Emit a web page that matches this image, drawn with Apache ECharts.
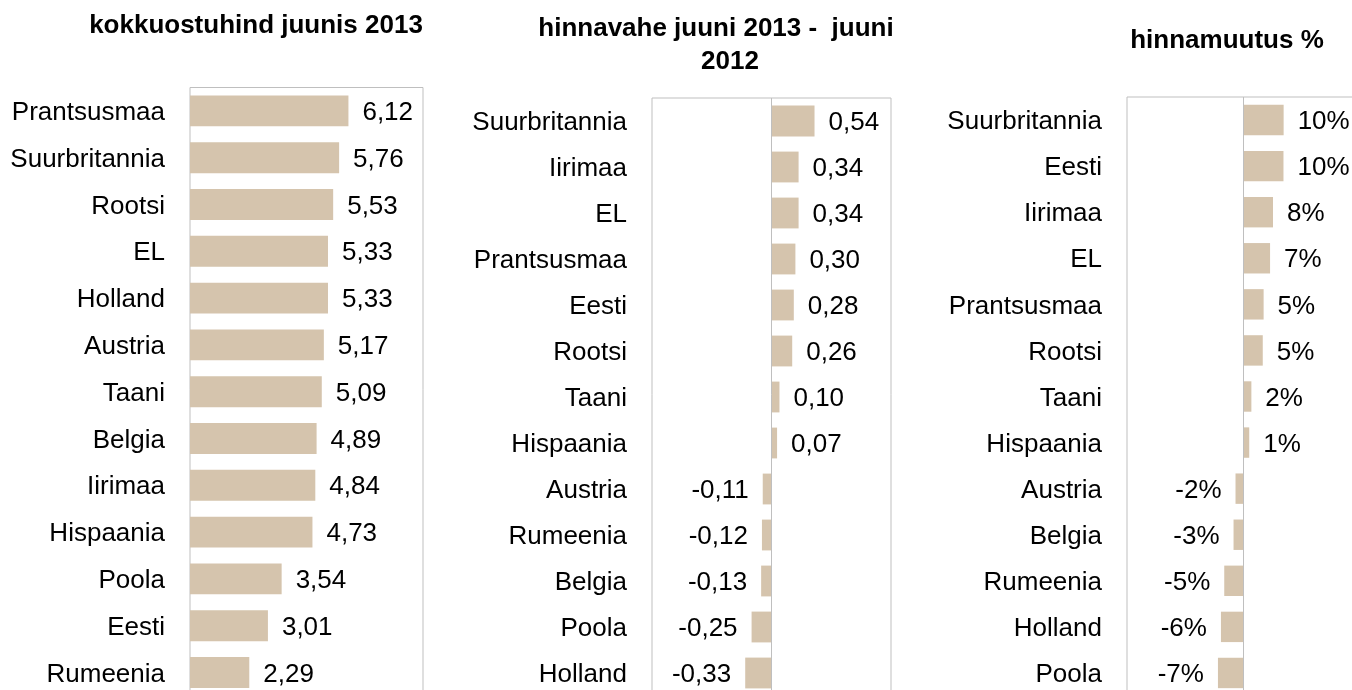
<!DOCTYPE html>
<html>
<head>
<meta charset="utf-8">
<script src="https://cdn.jsdelivr.net/npm/echarts@6/dist/echarts.min.js"></script>
<style>
  html, body { margin: 0; padding: 0; background: #fff; }
  #chart { width: 1352px; height: 690px; }
</style>
</head>
<body>
<div id="chart"></div>
<script>
// Panel 1: total purchase price, June 2013
const priceCountries = ['Prantsusmaa', 'Suurbritannia', 'Rootsi', 'EL', 'Holland', 'Austria', 'Taani',
  'Belgia', 'Iirimaa', 'Hispaania', 'Poola', 'Eesti', 'Rumeenia'];
const priceValues = [6.12, 5.76, 5.53, 5.33, 5.33, 5.17, 5.09, 4.89, 4.84, 4.73, 3.54, 3.01, 2.29];

// Panel 2: price difference June 2013 vs June 2012
const diffCountries = ['Suurbritannia', 'Iirimaa', 'EL', 'Prantsusmaa', 'Eesti', 'Rootsi', 'Taani',
  'Hispaania', 'Austria', 'Rumeenia', 'Belgia', 'Poola', 'Holland'];
const diffValues = [0.54, 0.34, 0.34, 0.30, 0.28, 0.26, 0.10, 0.07, -0.11, -0.12, -0.13, -0.25, -0.33];

// Panel 3: price change, %
const changeCountries = ['Suurbritannia', 'Eesti', 'Iirimaa', 'EL', 'Prantsusmaa', 'Rootsi', 'Taani',
  'Hispaania', 'Austria', 'Belgia', 'Rumeenia', 'Holland', 'Poola'];
const changeValues = [10.3, 10.26, 7.56, 6.81, 5.15, 4.93, 2.0, 1.45, -2.08, -2.59, -4.98, -5.83, -6.6];

const titles = ['kokkuostuhind juunis 2013', 'hinnavahe juuni 2013 -  juuni', '2012', 'hinnamuutus %'];

const FONT = "'Liberation Sans', Arial, Helvetica, sans-serif";
const BAR = '#d5c4ad';
const FRAME = '#bfbfbf';
const FS = 26;

const decimal = v => v.toFixed(2).replace('.', ',');
const percent = v => Math.round(v) + '%';

function barData(values, fmt) {
  return values.map(v => ({
    value: v,
    label: { position: v < 0 ? 'left' : 'right', formatter: () => fmt(v) }
  }));
}

// plot boxes run past the bottom (and, for the last one, the right) edge of the canvas
const grids = [
  { left: 190, top: 87.5, width: 233, height: 608.4 },
  { left: 652, top: 98, width: 239, height: 598 },
  { left: 1127, top: 97, width: 233.2, height: 599 }
];
const ranges = [[0, 9], [-1.5, 1.5], [-30, 30]];
const cats = [priceCountries, diffCountries, changeCountries];
const vals = [priceValues, diffValues, changeValues];
const fmts = [decimal, decimal, percent];
const gaps = ['34%', '33%', '34%'];

const option = {
  animation: false,
  backgroundColor: '#fff',
  textStyle: { fontFamily: FONT },
  grid: grids.map(g => Object.assign({
    show: true, borderColor: FRAME, borderWidth: 1, backgroundColor: 'transparent',
    outerBoundsMode: 'none', containLabel: false
  }, g)),
  xAxis: ranges.map((r, i) => ({
    type: 'value', gridIndex: i, min: r[0], max: r[1], show: false, splitLine: { show: false }
  })),
  yAxis: cats.map((c, i) => ({
    type: 'category', gridIndex: i, data: c, inverse: true,
    axisLine: { show: false, onZero: false },
    axisTick: { show: false },
    axisLabel: {
      margin: 25, color: '#000', fontSize: FS, fontFamily: FONT,
      formatter: name => '{c|' + name + '}',
      rich: { c: { color: '#000', fontSize: FS, fontFamily: FONT, padding: [4, 0, 0, 0] } }
    }
  })),
  series: vals.map((v, i) => ({
    type: 'bar', xAxisIndex: i, yAxisIndex: i,
    data: barData(v, fmts[i]),
    barCategoryGap: gaps[i],
    itemStyle: { color: BAR },
    label: { show: true, distance: 14, offset: [0, 2], color: '#000', fontSize: FS, fontFamily: FONT },
    markLine: i === 0 ? undefined : {
      silent: true, symbol: 'none', label: { show: false },
      lineStyle: { color: FRAME, width: 1, type: 'solid' },
      data: [{ xAxis: 0 }]
    }
  })),
  graphic: [
    { x: 256, y: 26, text: titles[0] },
    { x: 716, y: 29, text: titles[1] },
    { x: 730, y: 62, text: titles[2] },
    { x: 1227, y: 41, text: titles[3] }
  ].map(t => ({
    type: 'text', x: t.x, y: t.y,
    style: {
      text: t.text, fill: '#000', align: 'center', verticalAlign: 'middle',
      font: 'bold ' + FS + 'px ' + FONT
    }
  }))
};

echarts.init(document.getElementById('chart')).setOption(option);
</script>
</body>
</html>
